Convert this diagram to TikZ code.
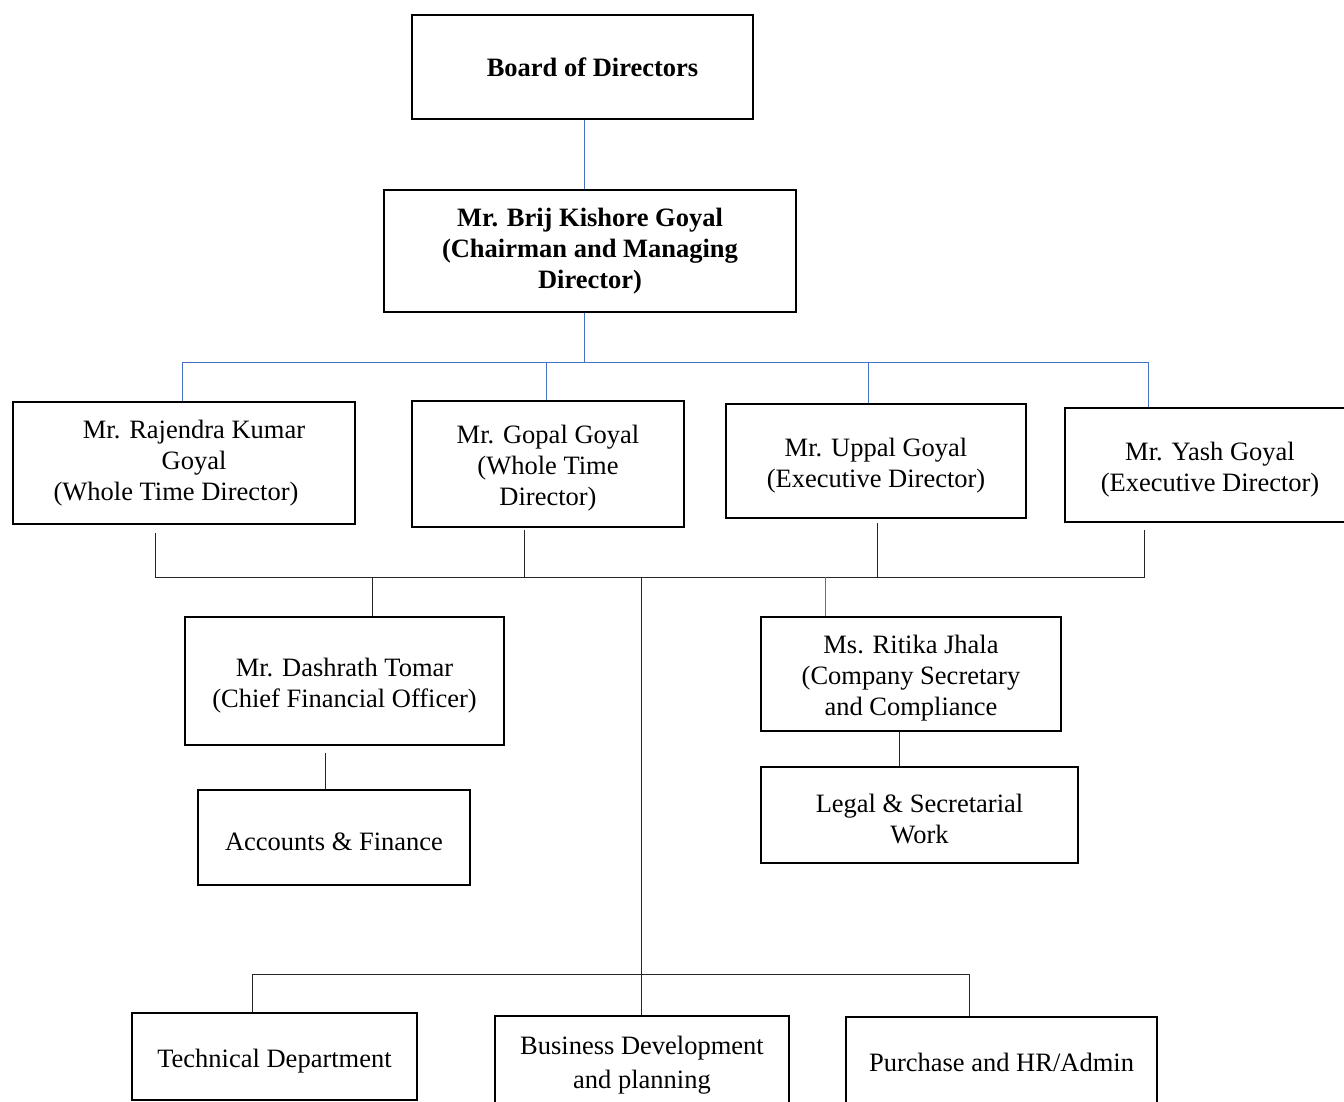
\documentclass[tikz,border=0pt]{standalone}
\usepackage{fontspec}
\setmainfont{Liberation Serif}
\definecolor{linkblue}{RGB}{68,114,196}
\newcommand{\lift}{\rule{0pt}{27pt}}
\begin{document}
\begin{tikzpicture}[x=1pt,y=-1pt,
	every node/.style={black,font=\fontsize{26.5}{31}\selectfont},
	box/.style={draw,line width=2.2pt,inner sep=0pt,align=center},
	thinbox/.style={box,line width=1.2pt},
	link/.style={line width=1pt,black!85},
	bluelink/.style={line width=1pt,linkblue}]
	\useasboundingbox (0,0) rectangle (1344,1102);
%	top tree (blue)
	\coordinate (tA) at (584,362);
	\coordinate (tL) at (182,362);
	\coordinate (tG) at (546,362);
	\coordinate (tU) at (868,362);
	\coordinate (tR) at (1148,362);
%	middle bus
	\coordinate (bL) at (155,577);
	\coordinate (bG) at (524,577);
	\coordinate (bU) at (877,577);
	\coordinate (bR) at (1144,577);
	\coordinate (bC) at (372,577);
	\coordinate (bM) at (641,577);
	\coordinate (bS) at (825,577);
	\coordinate (kA) at (325,0);
	\coordinate (kB) at (899,0);
%	bottom bus
	\coordinate (cL) at (252,974);
	\coordinate (cM) at (641,974);
	\coordinate (cR) at (969,974);

	\node[box,minimum width=341pt,minimum height=104pt] (bod) at (582.5,67) {\hspace*{20pt}\textbf{Board of Directors}};
	\node[thinbox,minimum width=412pt,minimum height=122pt] (cmd) at (590,251)
		{\textbf{Mr. Brij Kishore Goyal}\\\textbf{(Chairman and Managing}\\\textbf{Director)}};
	\node[box,minimum width=342pt,minimum height=122pt] (rkg) at (184,463)
		{\hspace*{20pt}Mr. Rajendra Kumar\\\hspace*{20pt}Goyal\\(Whole Time Director)\hspace*{16pt}};
	\node[box,minimum width=272pt,minimum height=126pt] (ggo) at (548,464) {\lift Mr. Gopal Goyal\\(Whole Time\\Director)};
	\node[box,minimum width=300pt,minimum height=114pt] (ugo) at (876,461) {\lift Mr. Uppal Goyal\\(Executive Director)};
	\node[box,minimum width=290pt,minimum height=114pt] (ygo) at (1210,465) {\lift Mr. Yash Goyal\\(Executive Director)};
	\node[box,minimum width=319pt,minimum height=128pt] (cfo) at (344.5,681) {\lift Mr. Dashrath Tomar\\(Chief Financial Officer)};
	\node[box,minimum width=272pt,minimum height=95pt] (acc) at (334,837.5) {\lift Accounts \& Finance};
	\node[box,minimum width=300pt,minimum height=114pt] (rjh) at (911,674) {\lift Ms. Ritika Jhala\\(Company Secretary\\and Compliance};
	\node[box,minimum width=317pt,minimum height=96pt] (lsw) at (919.5,815) {\lift Legal \& Secretarial\\Work};
	\node[box,minimum width=285pt,minimum height=87pt] (tec) at (274.5,1056.5) {\lift Technical Department};
	\node[box,minimum width=294pt,minimum height=90pt] (biz) at (642,1061) {\lift Business Development\\[3pt]and planning};
	\node[box,minimum width=311pt,minimum height=90pt] (pur) at (1001.5,1062) {Purchase and HR/Admin};

	\draw[bluelink] (bod.south -| tA) -- (cmd.north -| tA);
	\draw[bluelink] (cmd.south -| tA) -- (tA);
	\draw[bluelink] (tL) -- (tR);
	\draw[bluelink] (tL) -- (rkg.north -| tL);
	\draw[bluelink] (tG) -- (ggo.north -| tG);
	\draw[bluelink] (tU) -- (ugo.north -| tU);
	\draw[bluelink] (tR) -- (ygo.north -| tR);

	\draw[link] ([yshift=-8pt]rkg.south -| bL) -- (bL) -- (bR) -- ([yshift=-7pt]ygo.south -| bR);
	\draw[link] ([yshift=-2pt]ggo.south -| bG) -- (bG);
	\draw[link] ([yshift=-4pt]ugo.south -| bU) -- (bU);
	\draw[link] (bC) -- (cfo.north -| bC);
	\draw[link] (bM) -- (biz.north -| bM);
	\draw[bluelink] (bS) -- (rjh.north -| bS);
	\draw[link] ([yshift=-7pt]cfo.south -| kA) -- (acc.north -| kA);
	\draw[link] (rjh.south -| kB) -- (lsw.north -| kB);
	\draw[link] (tec.north -| cL) -- (cL) -- (cR) -- (pur.north -| cR);
\end{tikzpicture}
\end{document}
